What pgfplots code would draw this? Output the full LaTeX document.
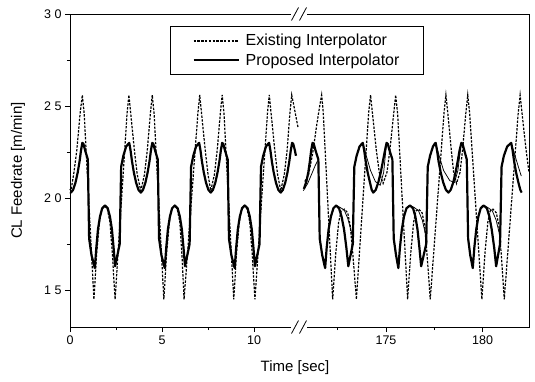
\documentclass[border=0pt]{standalone}
\usepackage{fontspec}
\setmainfont{Liberation Sans}
\usepackage{pgfplots}
\pgfplotsset{compat=1.18}

\pgfplotsset{
  brk/.style={
    scale only axis, height=313pt, ymin=13, ymax=30,
    axis line style={draw=none},
    clip=false,
    tick align=outside, xtick pos=left, ytick pos=left,
    major tick length=5pt, minor tick length=3pt,
    tick style={black, line width=0.8pt},
    /pgf/number format/assume math mode=true,
    tick label style={font=\fontsize{12.5}{14}\selectfont},
  },
  exist/.style={black, line width=1.2pt, dash pattern=on 2.4pt off 1.4pt},
  prop/.style={black, line width=2.2pt, line join=round},
  propthin/.style={black, line width=0.75pt},
}

\begin{document}
\begin{tikzpicture}
% ---------------- left part 0 .. 12.5 s
\begin{axis}[brk,
  at={(0pt,0pt)}, anchor=south west, width=230pt,
  xmin=0, xmax=12.5,
  xtick={0,5,10}, minor xtick={2.5,7.5},
  ytick={15,20,25,30}, minor ytick={17.5,22.5,27.5},
  yticklabels={{1\hspace{3.5pt}5},{2\hspace{3.5pt}0},{2\hspace{3.5pt}5},{3\hspace{3.5pt}0}},
  ylabel={CL Feedrate [m/min]},
  every axis y label/.style={at={(axis description cs:-0.226,0.5)}, rotate=90, anchor=center, font=\fontsize{15}{17}\selectfont},
  legend style={at={(axis description cs:0.4348,0.9617)}, anchor=north west,
    draw=black, line width=0.8pt, font=\fontsize{16}{18}\selectfont,
    inner xsep=22pt, inner ysep=6pt, row sep=2pt, cells={anchor=west}},
  legend image code/.code={\draw[#1] (0pt,0pt) -- (45pt,0pt); \path (49pt,0pt);},
]
\addplot[exist] coordinates {
(0.00,20.5) (0.05,20.4) (0.2,21.3) (0.37,22.6) (0.55,24.6) (0.67,25.6) (0.77,24.6)
(1.3,14.5) (1.45,17.0) (1.6,18.7) (1.73,19.4) (1.88,19.6) (2.03,19.4) (2.17,18.7) (2.3,17.0)
(2.45,14.5) (3.1,24.6) (3.2,25.6) (3.3,24.6) (3.5,22.6) (3.65,21.3) (3.85,20.4) (4.05,21.3)
(4.2,22.6) (4.37,24.6) (4.47,25.6) (4.57,24.6) (5.1,14.5) (5.25,17.0) (5.4,18.7) (5.53,19.4)
(5.68,19.6) (5.83,19.4) (5.97,18.7) (6.08,17.0) (6.2,14.5) (6.95,24.6) (7.05,25.6) (7.15,24.6)
(7.35,22.6) (7.5,21.3) (7.65,20.4) (7.85,21.3) (8.0,22.6) (8.17,24.6) (8.27,25.6) (8.37,24.6)
(8.9,14.5) (9.05,17.0) (9.2,18.7) (9.33,19.4) (9.48,19.6) (9.63,19.4) (9.77,18.7) (9.9,17.0)
(10.05,14.5) (10.73,24.6) (10.83,25.6) (10.93,24.6) (11.13,22.6) (11.28,21.3) (11.45,20.4)
(11.65,21.3) (11.8,22.6) (11.95,24.6) (12.05,25.6) (12.15,25.1) (12.4,23.8)
};
\addlegendentry{Existing Interpolator\hspace{26pt}}
\addplot[prop] coordinates {
(0.0,20.32) (0.05,20.3) (0.17,20.45) (0.30,20.85) (0.42,21.4) (0.52,22.0) (0.60,22.6) (0.67,23.0)
(0.73,22.95) (0.82,22.6) (0.97,22.1) (1.04,17.8) (1.17,16.9) (1.35,16.2) (1.43,17.3) (1.52,18.3)
(1.63,19.0) (1.75,19.45) (1.90,19.6) (2.05,19.45) (2.17,19.0) (2.28,18.3) (2.37,17.3) (2.45,16.3)
(2.70,17.5) (2.78,21.7) (2.90,22.3) (3.05,22.8) (3.17,22.95) (3.22,23.0) (3.29,22.6) (3.37,22.0)
(3.47,21.4) (3.59,20.85) (3.72,20.45) (3.85,20.3) (3.97,20.45) (4.10,20.85) (4.22,21.4) (4.32,22.0)
(4.40,22.6) (4.47,23.0) (4.53,22.95) (4.62,22.6) (4.77,22.1) (4.84,17.8) (4.97,16.9) (5.15,16.2)
(5.23,17.3) (5.32,18.3) (5.43,19.0) (5.55,19.45) (5.70,19.6) (5.85,19.45) (5.97,19.0) (6.08,18.3)
(6.17,17.3) (6.25,16.3) (6.50,17.5) (6.58,21.7) (6.70,22.3) (6.85,22.8) (6.97,22.95) (7.02,23.0)
(7.09,22.6) (7.17,22.0) (7.27,21.4) (7.39,20.85) (7.52,20.45) (7.65,20.3) (7.77,20.45) (7.90,20.85)
(8.02,21.4) (8.12,22.0) (8.20,22.6) (8.27,23.0) (8.33,22.95) (8.42,22.6) (8.57,22.1) (8.64,17.8)
(8.77,16.9) (8.95,16.2) (9.03,17.3) (9.12,18.3) (9.23,19.0) (9.35,19.45) (9.50,19.6) (9.65,19.45)
(9.77,19.0) (9.88,18.3) (9.97,17.3) (10.05,16.3) (10.30,17.5) (10.38,21.7) (10.50,22.3) (10.65,22.8)
(10.77,22.95) (10.82,23.0) (10.89,22.6) (10.97,22.0) (11.07,21.4) (11.19,20.85) (11.32,20.45)
(11.45,20.3) (11.57,20.45) (11.70,20.85) (11.82,21.4) (11.92,22.0) (12.00,22.6) (12.07,23.0)
(12.13,22.95) (12.22,22.6) (12.28,22.3)
};
\addlegendentry{Proposed Interpolator\hspace{26pt}}
\draw[line width=0.9pt] (rel axis cs:0.961,0) -- (rel axis cs:0,0) -- (rel axis cs:0,1) -- (rel axis cs:0.961,1);
\end{axis}
% ---------------- right part 170.55 .. 182.4 s
\begin{axis}[brk,
  at={(230pt,0pt)}, anchor=south west, width=229pt,
  xmin=170.55, xmax=182.4,
  xtick={175,180}, minor xtick={172.5,177.5},
  ytick=\empty,
]
\addplot[exist] coordinates {
(170.8,20.9) (171.0,21.3) (171.2,22.4) (171.42,24.0) (171.57,25.0) (171.67,25.6) (171.75,24.7)
(172.24,14.5) (172.4,17.0) (172.55,18.7) (172.68,19.3) (172.85,19.4) (173.02,19.2) (173.15,18.5)
(173.28,17.0) (173.47,14.5) (174.1,24.6) (174.2,25.6) (174.3,24.6) (174.5,22.6) (174.65,21.4)
(174.85,20.8) (175.05,21.4) (175.2,22.6) (175.4,24.6) (175.5,25.6) (175.6,24.6) (176.12,14.5)
(176.28,17.0) (176.43,18.7) (176.55,19.3) (176.7,19.4) (176.87,19.2) (177.0,18.5) (177.12,17.0)
(177.29,14.5) (178.0,24.6) (178.1,25.6) (178.2,24.6) (178.38,22.6) (178.5,21.4) (178.65,20.8)
(178.83,21.4) (178.96,22.6) (179.13,24.6) (179.23,25.6) (179.33,24.6) (179.96,14.5) (180.12,17.0)
(180.27,18.7) (180.39,19.3) (180.54,19.4) (180.71,19.2) (180.84,18.5) (180.96,17.0) (181.12,14.5)
(181.84,24.6) (181.94,25.6) (182.04,24.6) (182.25,22.6) (182.4,21.4)
};
\addplot[prop] coordinates {
(170.75,20.5) (170.88,20.9) (170.98,21.4) (171.06,22.0) (171.13,22.6) (171.2,23.0) (171.26,22.95)
(171.35,22.6) (171.5,22.1) (171.57,17.8) (171.7,16.9) (171.85,16.2) (171.93,17.3) (172.03,18.3)
(172.15,19.0) (172.28,19.45) (172.42,19.6) (172.57,19.45) (172.7,19.0) (172.83,18.3) (172.95,17.3)
(173.05,16.3) (173.28,17.5) (173.36,21.7) (173.48,22.3) (173.63,22.8) (173.75,22.95) (173.8,23.0)
(173.87,22.6) (173.95,22.0) (174.05,21.4) (174.17,20.85) (174.26,20.45) (174.34,20.3) (174.47,20.45)
(174.6,20.85) (174.73,21.4) (174.84,22.0) (174.95,22.6) (175.03,23.0) (175.09,22.95) (175.18,22.6)
(175.33,22.1) (175.4,17.8) (175.52,16.9) (175.64,16.2) (175.72,17.3) (175.82,18.3) (175.93,19.0)
(176.06,19.45) (176.24,19.6) (176.4,19.45) (176.52,19.0) (176.63,18.3) (176.73,17.3) (176.82,16.3)
(177.08,17.5) (177.16,21.7) (177.28,22.3) (177.43,22.8) (177.52,22.95) (177.57,23.0) (177.64,22.6)
(177.72,22.0) (177.83,21.4) (177.96,20.85) (178.1,20.45) (178.23,20.3) (178.35,20.45) (178.48,20.85)
(178.6,21.4) (178.71,22.0) (178.81,22.6) (178.9,23.0) (178.96,22.95) (179.05,22.6) (179.18,22.1)
(179.25,17.8) (179.36,16.9) (179.49,16.2) (179.57,17.3) (179.67,18.3) (179.78,19.0) (179.9,19.45)
(180.05,19.6) (180.22,19.45) (180.35,19.0) (180.47,18.3) (180.6,17.3) (180.7,16.3) (180.9,17.5)
(180.98,21.7) (181.1,22.3) (181.27,22.8) (181.42,22.95) (181.48,23.0) (181.55,22.6) (181.63,22.0)
(181.73,21.4) (181.85,20.85) (181.95,20.45) (182.02,20.3)
};
\addplot[propthin] coordinates {(170.72,20.4) (170.95,20.8) (171.15,21.3) (171.35,21.8) (171.5,22.1)};
\addplot[propthin] coordinates {(172.42,19.6) (172.62,19.5) (172.84,19.35) (173.02,18.9) (173.2,18.2) (173.34,17.6)};
\addplot[propthin] coordinates {(173.8,23.0) (173.98,22.3) (174.2,21.5) (174.45,20.9) (174.7,20.7) (174.88,21.4) (175.03,23.0)};
\addplot[propthin] coordinates {(176.24,19.6) (176.45,19.5) (176.68,19.32) (176.88,18.8) (177.03,18.1) (177.13,17.6)};
\addplot[propthin] coordinates {(177.57,23.0) (177.75,22.3) (177.98,21.5) (178.3,20.95) (178.55,20.85) (178.72,21.5) (178.85,22.6)};
\addplot[propthin] coordinates {(180.05,19.6) (180.25,19.5) (180.5,19.32) (180.7,18.8) (180.86,18.1) (180.95,17.6)};
\addplot[propthin] coordinates {(181.48,23.0) (181.65,22.4) (181.85,21.7) (182.0,21.2)};
\draw[line width=0.9pt] (rel axis cs:0.0306,0) -- (rel axis cs:1,0) -- (rel axis cs:1,1) -- (rel axis cs:0.0306,1);
\end{axis}
% axis break marks
\foreach \xx in {225pt,233pt}{
  \draw[line width=0.8pt] ([xshift=-3.5pt]\xx,-6.5pt) -- ([xshift=3.5pt]\xx,6.5pt);
  \draw[line width=0.8pt] ([xshift=-3.5pt]\xx,306.5pt) -- ([xshift=3.5pt]\xx,319.5pt);
}
\node[font=\fontsize{15}{17}\selectfont] at (225pt,-41pt) {Time [sec]};
\pgfresetboundingbox
\path (-70pt,-54pt) rectangle (465pt,327pt);
\end{tikzpicture}
\end{document}
